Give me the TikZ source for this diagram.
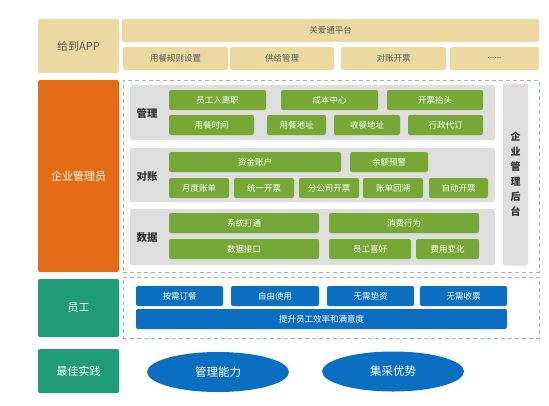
\documentclass[tikz,border=0pt]{standalone}
\usepackage{fontspec}
\setmainfont{Noto Sans CJK SC}
\usepackage{tikz}
\usetikzlibrary{shapes.geometric}

\definecolor{beige}{HTML}{ECD9A2}
\definecolor{darktext}{HTML}{555555}
\definecolor{adminorange}{HTML}{E46C17}
\definecolor{staffteal}{HTML}{1F9B76}
\definecolor{btngreen}{HTML}{76A835}
\definecolor{panelgray}{HTML}{DEDEDE}
\definecolor{btnblue}{HTML}{0A6FC0}
\definecolor{framedash}{HTML}{9FB0D3}

\begin{document}
\begin{tikzpicture}[
    x=1pt, y=-1pt,
    every node/.style={inner sep=0pt, outer sep=0pt},
    rolebox/.style={
        rounded corners=2pt,
        minimum width=81pt,
        font=\fontsize{11}{13}\selectfont,
        text=white
    },
    topbox/.style={
        fill=beige,
        rounded corners=2pt,
        minimum height=23pt,
        text=darktext,
        font=\fontsize{8.5}{10}\selectfont
    },
    panel/.style={
        fill=panelgray,
        rounded corners=2pt,
        minimum width=365pt
    },
    panellabel/.style={
        text=black!80,
        font=\bfseries\fontsize{10.5}{12}\selectfont
    },
    greenbtn/.style={
        fill=btngreen,
        rounded corners=2pt,
        minimum height=20pt,
        text=white,
        font=\fontsize{8.5}{10}\selectfont
    },
    bluebtn/.style={
        fill=btnblue,
        rounded corners=2pt,
        minimum height=20pt,
        text=white,
        font=\fontsize{8.5}{10}\selectfont
    },
    frame/.style={
        draw=framedash,
        line width=1pt,
        dash pattern=on 4pt off 3pt,
        minimum width=416pt
    },
    bestpoint/.style={
        ellipse,
        fill=btnblue,
        minimum width=142pt,
        minimum height=40pt,
        text=white,
        font=\fontsize{11.5}{13}\selectfont
    }
]
\useasboundingbox (0,0) rectangle (549,405);

% top row
\node[topbox, minimum width=81pt, minimum height=54pt,
      font=\fontsize{11}{13}\selectfont] (app) at (78.5,46) {给到APP};
\node[topbox, minimum width=417pt] (platform) at (330.5,30.5) {关爱通平台};
\node[topbox, minimum width=105pt] (mealrule) at (175.5,58.5) {用餐规则设置};
\node[topbox, minimum width=104pt] (supply) at (282,58.5) {供给管理};
\node[topbox, minimum width=105pt] (invoice) at (393.5,58.5) {对账开票};
\node[topbox, minimum width=89pt] (more) at (494.5,58.5) {......};

% admin
\node[rolebox, fill=adminorange, minimum height=192pt] (admin) at (78.5,176) {企业管理员};
\node[frame, minimum height=192pt] (adminframe) at (331,176) {};
\node[panel, minimum height=55pt] (mgmt) at (312.5,112.5) {};
\node[panel, minimum height=54pt] (recon) at (312.5,175) {};
\node[panel, minimum height=56pt] (data) at (312.5,237) {};
\node[panellabel] (mgmtlabel) at (147,113) {管理};
\node[panellabel] (reconlabel) at (147,177) {对账};
\node[panellabel] (datalabel) at (147,238) {数据};
\node[fill=panelgray, rounded corners=2pt, minimum width=25pt, minimum height=182pt,
      align=center, text=black!80,
      font=\bfseries\fontsize{10}{15}\selectfont] (backend) at (515.5,174.5)
      {企\\业\\管\\理\\后\\台};

% management
\node[greenbtn, minimum width=97pt] (onboard) at (217.5,100) {员工入离职};
\node[greenbtn, minimum width=97pt] (costcenter) at (329.5,100) {成本中心};
\node[greenbtn, minimum width=96pt] (invtitle) at (435,100) {开票抬头};
\node[greenbtn, minimum width=85pt] (mealtime) at (211.5,125) {用餐时间};
\node[greenbtn, minimum width=59pt] (mealaddr) at (296.5,125) {用餐地址};
\node[greenbtn, minimum width=66pt] (recvaddr) at (367,125) {收餐地址};
\node[greenbtn, minimum width=75pt] (proxyorder) at (445.5,125) {行政代订};

% reconciliation
\node[greenbtn, minimum width=172pt] (fund) at (255,162) {资金账户};
\node[greenbtn, minimum width=78pt] (balance) at (389,162) {余额预警};
\node[greenbtn, minimum width=60pt] (monthly) at (199,188) {月度账单};
\node[greenbtn, minimum width=60pt] (unified) at (264,188) {统一开票};
\node[greenbtn, minimum width=60pt] (branch) at (329,188) {分公司开票};
\node[greenbtn, minimum width=60pt] (trace) at (393,188) {账单回溯};
\node[greenbtn, minimum width=59pt] (autoinv) at (458.5,188) {自动开票};

% data
\node[greenbtn, minimum width=150pt] (connect) at (244,223) {系统打通};
\node[greenbtn, minimum width=150pt] (consume) at (404,223) {消费行为};
\node[greenbtn, minimum width=150pt] (api) at (244,249) {数据接口};
\node[greenbtn, minimum width=82pt] (pref) at (370,249) {员工喜好};
\node[greenbtn, minimum width=63pt] (costchange) at (447.5,249) {费用变化};

% staff
\node[rolebox, fill=staffteal, minimum height=58pt] (staff) at (78.5,308) {员工};
\node[frame, minimum height=61pt] (staffframe) at (331,307.5) {};
\node[bluebtn, minimum width=87pt] (ondemand) at (179.5,296) {按需订餐};
\node[bluebtn, minimum width=88pt] (freeuse) at (275,296) {自由使用};
\node[bluebtn, minimum width=87pt] (noadvance) at (370.5,296) {无需垫资};
\node[bluebtn, minimum width=87pt] (noreceipt) at (463.5,296) {无需收票};
\node[bluebtn, minimum width=371pt] (efficiency) at (321.5,319) {提升员工效率和满意度};

% best practice
\node[rolebox, fill=staffteal, minimum height=44pt] (best) at (78.5,371) {最佳实践};
\node[bestpoint] (ability) at (218,372) {管理能力};
\node[bestpoint] (purchase) at (393,371.5) {集采优势};
\end{tikzpicture}
\end{document}
